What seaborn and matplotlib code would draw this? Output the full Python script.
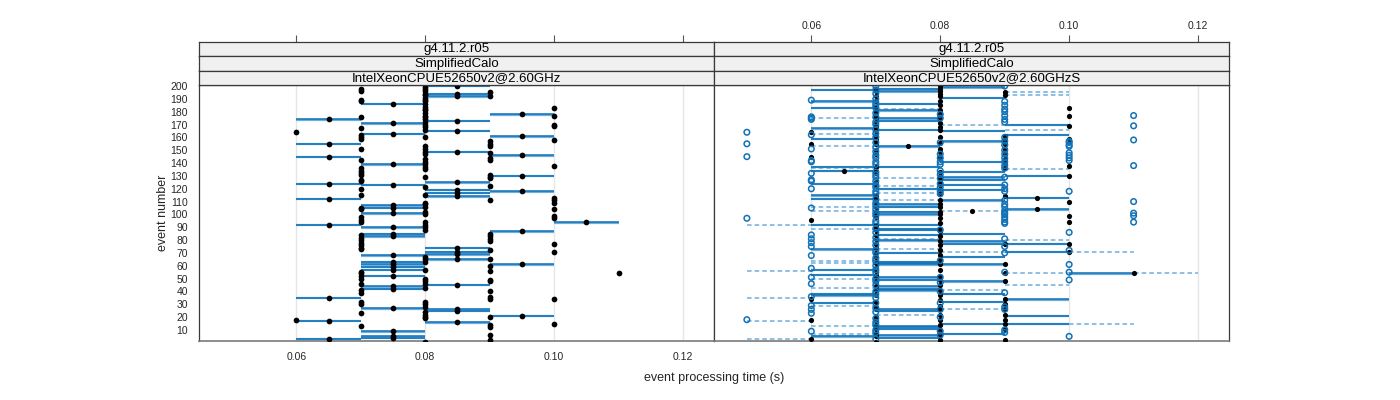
import numpy as np
import pandas as pd
import matplotlib
matplotlib.use("Agg")
import matplotlib.pyplot as plt
import seaborn as sns

# ---- left panel (IntelXeonCPUE52650v2@2.60GHz) ----
# events whose two measurements differ: line from low to high, dot at the middle
l_rng_06_07 = [174, 155, 145, 124, 112, 92, 35, 17, 3]
l_rng_07_08 = [186, 171, 163, 139, 123, 107, 105, 101, 90, 85, 83, 68, 63, 61,
               59, 57, 52, 44, 42, 27, 9, 5, 4]
l_rng_08_09 = [200, 194, 192, 173, 165, 149, 125, 119, 117, 114, 74, 71, 69, 65,
               45, 26, 25, 16]
l_rng_09_10 = [178, 161, 146, 130, 118, 87, 61, 21]
l_rng_10_11 = [94]
# events whose measurements agree: single dot
l_pt_06 = [164, 18]
l_pt_07 = [198, 196, 189, 188, 176, 167, 162, 160, 159, 151, 142, 136, 134, 132,
           131, 127, 126, 120, 115, 105, 104, 98, 96, 94, 84, 82, 80, 78, 76, 74,
           73, 55, 54, 52, 50, 46, 41, 39, 32, 30, 23, 13]
l_pt_08 = [199, 198, 196, 194, 193, 191, 189, 188, 186, 184, 182, 181, 179, 177,
           176, 174, 172, 170, 168, 166, 160, 153, 151, 149, 147, 143, 141, 139,
           137, 135, 129, 121, 115, 109, 108, 106, 102, 100, 94, 92, 90, 88, 67,
           65, 63, 57, 50, 48, 46, 43, 32, 30, 28, 24, 22, 20, 19, 1]
l_pt_09 = [195, 192, 157, 155, 153, 148, 144, 142, 131, 129, 128, 122, 111, 85,
           83, 81, 79, 72, 65, 60, 56, 49, 48, 40, 36, 34, 20, 14, 12, 6, 2]
l_pt_10 = [183, 177, 170, 169, 158, 138, 113, 111, 109, 104, 99, 97, 77, 71, 34, 15]
l_pt_11 = [54]

# ---- right panel (IntelXeonCPUE52650v2@2.60GHzS) ----
# boxes (solid)
r_box_06_07 = [197, 188, 183, 167, 159, 137, 134, 124, 115, 112, 92, 73, 57, 53,
               38, 37, 31, 5]
r_box_07_08 = [198, 196, 186, 181, 175, 173, 166, 153, 137, 120, 108, 106, 102,
               100, 92, 89, 88, 84, 80, 70, 63, 62, 61, 51, 49, 44, 42, 41, 26, 25,
               13, 12, 11, 6, 4]
r_box_08_09 = [199, 191, 165, 157, 141, 133, 129, 127, 123, 119, 111, 85, 79, 77,
               67, 61, 48, 38, 32, 15, 7]
r_box_09_10 = [170, 162, 130, 113, 104, 77, 71, 34, 21, 15]
r_box_10_11 = [54]
# whiskers (dashed)
r_wh_05_06 = [92, 56, 35, 17, 3]
r_wh_06_07 = [175, 163, 153, 136, 106, 103, 89, 64, 62, 50, 43, 29, 13, 7, 5]
r_wh_07_08 = [182, 128, 122, 117, 111, 81, 73, 43, 22, 12]
r_wh_08_09 = [170, 103, 71, 41, 26]
r_wh_09_10 = [195, 193, 166, 135, 80, 54, 45]
r_wh_10_11 = [71, 15]
r_wh_11_12 = [54]
# medians (filled black)
r_med_06 = [164, 155, 145, 96, 34, 18, 3]
r_med_065 = [134]
r_med_07 = [198, 196, 192, 188, 184, 180, 177, 175, 172, 169, 167, 165, 161, 159,
            157, 155, 150, 147, 137, 134, 132, 125, 122, 114, 113, 110, 108, 106,
            102, 101, 98, 92, 90, 88, 84, 81, 77, 74, 70, 67, 62, 58, 57, 53, 52,
            48, 44, 41, 37, 32, 28, 26, 20, 18, 14, 11, 7, 5, 1]
r_med_075 = [153]
r_med_08 = [200, 198, 196, 194, 192, 188, 185, 181, 178, 175, 171, 168, 166, 160,
            156, 151, 149, 145, 133, 130, 128, 125, 123, 120, 117, 111, 108, 106,
            102, 100, 97, 93, 89, 87, 83, 79, 76, 72, 68, 65, 61, 57, 52, 49, 45,
            41, 37, 33, 29, 26, 22, 18, 14, 10, 6, 2]
r_med_085 = [103]
r_med_09 = [195, 193, 161, 158, 155, 151, 147, 143, 139, 136, 114, 77, 61, 54, 48,
            34, 30, 26, 22, 18, 15, 11, 2]
r_med_095 = [113, 104]
r_med_10 = [183, 177, 169, 159, 138, 130, 110, 99, 94, 77, 71]
r_med_11 = [54]
# outliers (open circles)
r_out_05 = [164, 155, 145, 97, 18]
r_out_06 = [189, 176, 175, 174, 162, 151, 142, 141, 132, 127, 126, 120, 105, 84,
            81, 78, 75, 68, 58, 51, 46, 36, 29, 26, 23, 9]
r_out_07 = [200, 197, 194, 190, 187, 185, 183, 179, 176, 172, 170, 166, 163, 160,
            156, 152, 149, 146, 144, 141, 139, 133, 131, 129, 126, 123, 121, 118,
            116, 112, 109, 107, 104, 101, 99, 95, 93, 89, 86, 82, 79, 76, 72, 70,
            66, 64, 60, 57, 55, 50, 48, 45, 40, 38, 35, 31, 27, 24, 19, 16, 14,
            10, 8, 3]
r_out_08 = [178, 175, 156, 147, 144, 141, 139, 134, 131, 128, 124, 121, 118, 116,
            88, 64, 51, 47, 40, 31, 26, 20, 9, 6]
r_out_09 = [200, 188, 185, 182, 180, 177, 174, 172, 160, 157, 154, 150, 147, 144,
            141, 138, 136, 129, 123, 120, 118, 111, 108, 106, 103, 101, 100, 98,
            96, 94, 93, 81, 75, 70, 55, 39, 28, 26, 10, 8]
r_out_10 = [157, 156, 154, 153, 148, 146, 144, 142, 118, 86, 72, 61, 55, 49, 5]
r_out_11 = [177, 169, 158, 138, 110, 101, 99, 94]

STRIPS = ["g4.11.2.r05", "SimplifiedCalo"]
PANEL_NAMES = ["IntelXeonCPUE52650v2@2.60GHz", "IntelXeonCPUE52650v2@2.60GHzS"]
XTICKS = [0.06, 0.08, 0.10, 0.12]
YTICKS = list(range(10, 201, 10))
XLIM = (0.0449, 0.1248)
YLIM = (1.4, 200.8)

BLUE = "#1172B6"
BLUE_LIGHT = "#6FAEDD"
GRID = "#E6E6E6"
FRAME = "#3A3A3A"


def segs(groups):
    """Build a frame of horizontal segments from {(lo, hi): events}"""
    rows = []
    for (lo, hi), events in groups.items():
        for e in events:
            rows.append({"event": e, "lo": lo, "hi": hi})
    return pd.DataFrame(rows)


def pts(groups):
    rows = []
    for x, events in groups.items():
        for e in events:
            rows.append({"event": e, "time": x})
    return pd.DataFrame(rows)


def draw_boxes(ax, df):
    ax.hlines(df["event"] - 0.35, df["lo"], df["hi"], color=BLUE_LIGHT, lw=1.6, zorder=2)
    ax.hlines(df["event"], df["lo"], df["hi"], color=BLUE, lw=1.1, zorder=3)


def style_panel(ax, show_y):
    ax.set_xlim(*XLIM)
    ax.set_ylim(*YLIM)
    for x in XTICKS:
        ax.axvline(x, color=GRID, lw=1, zorder=0)
    ax.set_xticks(XTICKS)
    ax.set_yticks(YTICKS if show_y else [])
    ax.tick_params(axis="both", direction="out", length=5, width=0.8,
                   color="#555555", labelsize=7.5, pad=3)
    for s in ax.spines.values():
        s.set_color(FRAME)
        s.set_linewidth(0.9)
    ax.spines["bottom"].set_color("#7A7A7A")
    ax.spines["bottom"].set_linewidth(1.2)
    ax.set_xlabel("")
    ax.set_ylabel("")


sns.set_theme(style="white")
plt.rcParams["font.family"] = ["Liberation Sans", "DejaVu Sans"]

fig = plt.figure(figsize=(14, 4), dpi=100)
W, H = 1400.0, 400.0
px_left = [199, 714]
px_w = 515
top, bottom = 85, 341
strip_h = 14.3

axes = []
for i in range(2):
    ax = fig.add_axes([px_left[i] / W, 1 - bottom / H, px_w / W, (bottom - top) / H])
    axes.append(ax)

# left panel
axL = axes[0]
draw_boxes(axL, segs({(0.06, 0.07): l_rng_06_07, (0.07, 0.08): l_rng_07_08,
                      (0.08, 0.09): l_rng_08_09, (0.09, 0.10): l_rng_09_10,
                      (0.10, 0.11): l_rng_10_11}))
left_pts = pd.concat([
    pts({0.065: l_rng_06_07, 0.075: l_rng_07_08, 0.085: l_rng_08_09,
         0.095: l_rng_09_10, 0.105: l_rng_10_11}),
    pts({0.06: l_pt_06, 0.07: l_pt_07, 0.08: l_pt_08, 0.09: l_pt_09,
         0.10: l_pt_10, 0.11: l_pt_11}),
])
sns.scatterplot(data=left_pts, x="time", y="event", ax=axL, color="black",
                s=17, linewidth=0, zorder=4, legend=False)
style_panel(axL, True)
axL.tick_params(axis="x", labelbottom=True)

# right panel
axR = axes[1]
wh = segs({(0.05, 0.06): r_wh_05_06, (0.06, 0.07): r_wh_06_07, (0.07, 0.08): r_wh_07_08,
           (0.08, 0.09): r_wh_08_09, (0.09, 0.10): r_wh_09_10, (0.10, 0.11): r_wh_10_11,
           (0.11, 0.12): r_wh_11_12})
axR.hlines(wh["event"], wh["lo"], wh["hi"], color=BLUE_LIGHT, lw=1.1,
           linestyles=(0, (3, 2)), zorder=2)
draw_boxes(axR, segs({(0.06, 0.07): r_box_06_07, (0.07, 0.08): r_box_07_08,
                      (0.08, 0.09): r_box_08_09, (0.09, 0.10): r_box_09_10,
                      (0.10, 0.11): r_box_10_11}))
outl = pts({0.05: r_out_05, 0.06: r_out_06, 0.07: r_out_07, 0.08: r_out_08,
            0.09: r_out_09, 0.10: r_out_10, 0.11: r_out_11})
sns.scatterplot(data=outl, x="time", y="event", ax=axR, marker="o",
                facecolor="none", edgecolor=BLUE, linewidth=1.1, s=16,
                zorder=5, legend=False)
med = pts({0.06: r_med_06, 0.065: r_med_065, 0.07: r_med_07, 0.075: r_med_075,
           0.08: r_med_08, 0.085: r_med_085, 0.09: r_med_09, 0.095: r_med_095,
           0.10: r_med_10, 0.11: r_med_11})
sns.scatterplot(data=med, x="time", y="event", ax=axR, color="black",
                s=14, linewidth=0, zorder=4, legend=False)
style_panel(axR, False)
axR.tick_params(axis="x", labelbottom=False)

# strips and the top axis
for i in range(2):
    labels = STRIPS + [PANEL_NAMES[i]]
    for k, lab in enumerate(labels):
        y_top = top - strip_h * (3 - k)
        sax = fig.add_axes([px_left[i] / W, 1 - (y_top + strip_h) / H,
                            px_w / W, strip_h / H])
        sax.set_facecolor("#F0F0F0")
        sax.set_xlim(*XLIM)
        sax.set_yticks([])
        for s in sax.spines.values():
            s.set_color(FRAME)
            s.set_linewidth(0.9)
        sax.text(0.5, 0.5, lab, transform=sax.transAxes, ha="center",
                 va="center", fontsize=9.5, color="black")
        if k == 0:
            sax.set_xticks(XTICKS)
            sax.tick_params(axis="x", top=True, bottom=False, labelbottom=False,
                            labeltop=(i == 1), direction="out", length=5,
                            width=0.8, color="#555555", labelsize=7.5, pad=3)
        else:
            sax.set_xticks([])

fig.text(714 / W, 1 - 378 / H, "event processing time (s)", ha="center",
         va="center", fontsize=9)
fig.text(163 / W, 1 - 213 / H, "event number", ha="center", va="center",
         rotation=90, fontsize=9)

fig.savefig("out.png", dpi=100, facecolor="white")
plt.close(fig)
